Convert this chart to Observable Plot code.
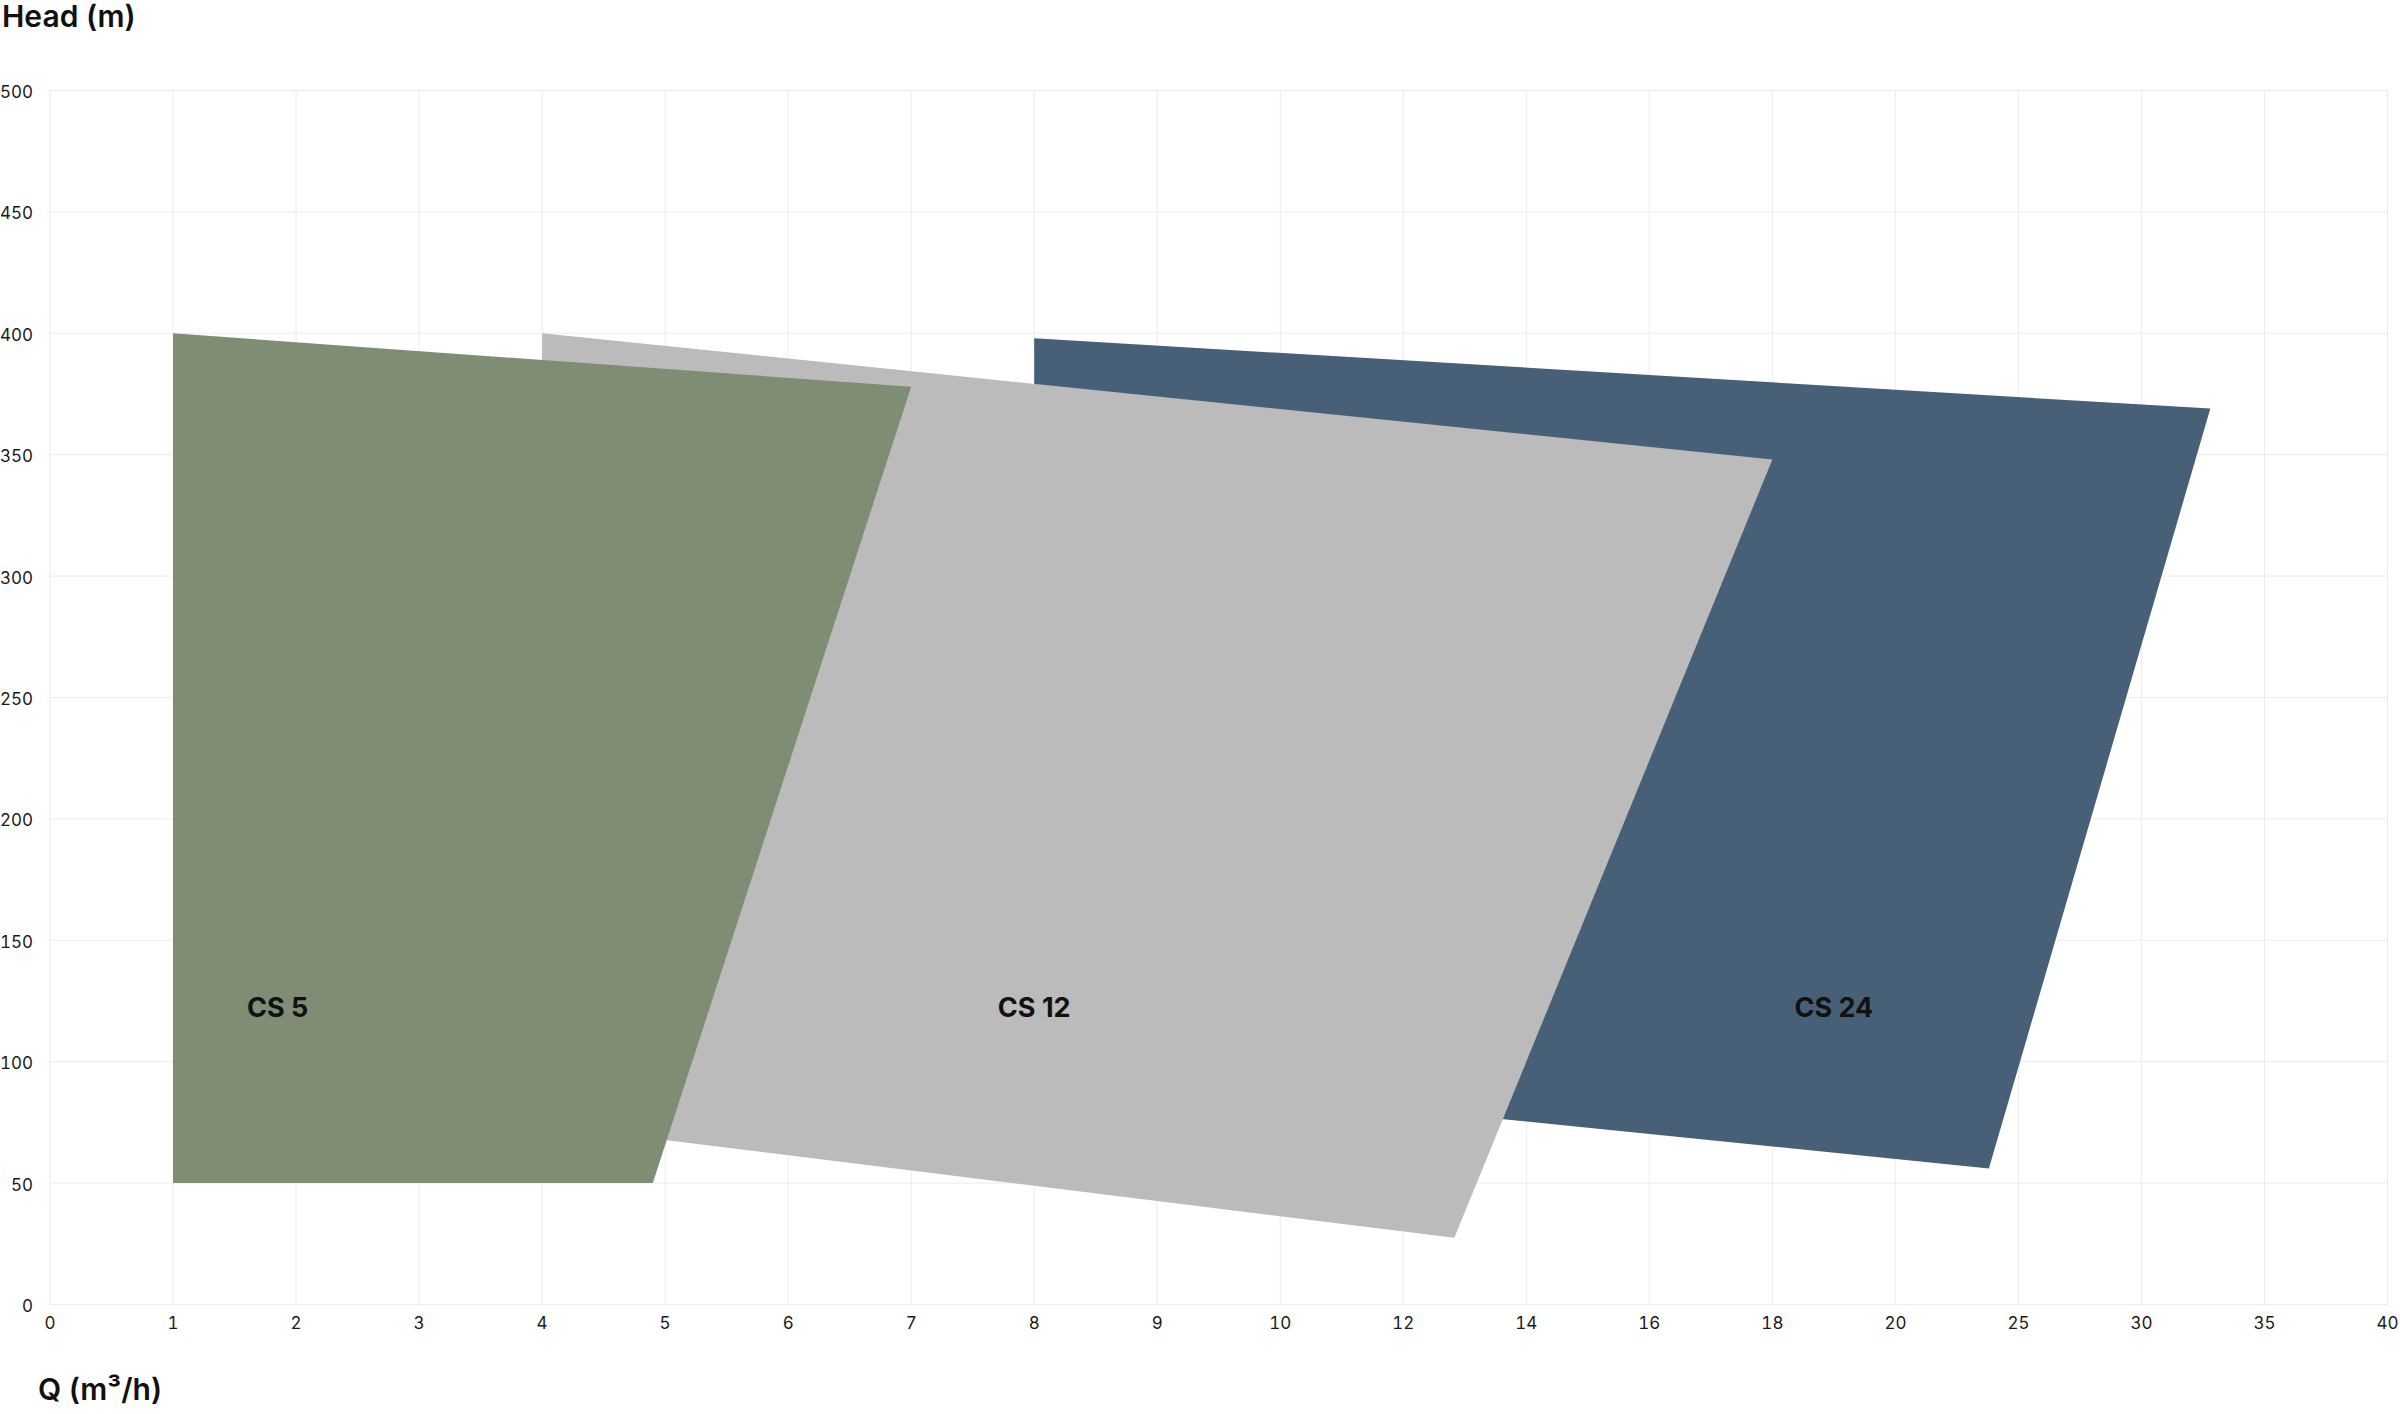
<!DOCTYPE html>
<html>
<head>
<meta charset="utf-8">
<script src="https://cdn.jsdelivr.net/npm/d3@7"></script>
<script src="https://cdn.jsdelivr.net/npm/@observablehq/plot@0.6"></script>
<style>
  html, body { margin: 0; padding: 0; background: #fff; }
  #wrap { position: relative; width: 2400px; height: 1414px; font-family: Inter, "Noto Sans", sans-serif; }
  .title { position: absolute; font-size: 30px; line-height: 30px; font-weight: 600; color: #111; white-space: nowrap; }
  #ytitle { left: 2px; top: 1px; }
  #xtitle { left: 38px; top: 1374px; }
  #chart { position: absolute; left: 0; top: 0; }
</style>
</head>
<body>
<div id="wrap">
  <div id="chart"></div>
  <div class="title" id="ytitle">Head (m)</div>
  <div class="title" id="xtitle">Q (m³/h)</div>
</div>
<script>
// Axis ticks (x axis is piecewise: equal spacing between listed stops)
const xTicks = [0, 1, 2, 3, 4, 5, 6, 7, 8, 9, 10, 12, 14, 16, 18, 20, 25, 30, 35, 40];
const yTicks = [0, 50, 100, 150, 200, 250, 300, 350, 400, 450, 500];

// Pump operating areas (polygon vertices, Q in m³/h, head in m)
const seriesNames = ["CS 5", "CS 12", "CS 24"];
const seriesColors = ["#7e8d74", "#bbbbbb", "#476078"];
const cs5Q  = [1, 7, 4.9, 1];
const cs5H  = [400, 378, 50, 50];
const cs12Q = [4, 18, 12.83, 4];
const cs12H = [400, 348, 27.5, 74];
const cs24Q = [8, 32.8, 23.8, 8];
const cs24H = [398, 369, 56, 96];

// Label positions
const labelQ = [1.85, 8, 19];
const labelH = [122, 122, 122];

const toRows = (qs, hs, name) => qs.map((q, i) => ({q, h: hs[i], name}));
const cs5 = toRows(cs5Q, cs5H, seriesNames[0]);
const cs12 = toRows(cs12Q, cs12H, seriesNames[1]);
const cs24 = toRows(cs24Q, cs24H, seriesNames[2]);
const labels = seriesNames.map((name, i) => ({name, q: labelQ[i], h: labelH[i]}));

const width = 2400, height = 1414;
const marginLeft = 49.5, marginRight = 13, marginTop = 90, marginBottom = 110;
const x0 = marginLeft, x1 = width - marginRight;
const xRange = xTicks.map((_, i) => x0 + i * (x1 - x0) / (xTicks.length - 1));

const chart = Plot.plot({
  width, height,
  marginLeft, marginRight, marginTop, marginBottom,
  style: {fontFamily: "Inter, 'Noto Sans', sans-serif", fontSize: "17px", color: "#1a1a1a", background: "transparent"},
  x: {type: "linear", domain: xTicks, range: xRange},
  y: {domain: [0, 500]},
  marks: [
    Plot.gridX(xTicks, {stroke: "#ebebeb", strokeOpacity: 1, strokeWidth: 1}),
    Plot.gridY(yTicks, {stroke: "#ebebeb", strokeOpacity: 1, strokeWidth: 1}),
    Plot.line(cs24, {x: "q", y: "h", fill: seriesColors[2], stroke: "none"}),
    Plot.line(cs12, {x: "q", y: "h", fill: seriesColors[1], stroke: "none"}),
    Plot.line(cs5, {x: "q", y: "h", fill: seriesColors[0], stroke: "none"}),
    Plot.axisX({ticks: xTicks, tickSize: 0, tickPadding: 12, label: null, fontSize: 17}),
    Plot.axisY({ticks: yTicks, tickSize: 0, tickPadding: 17, label: null, fontSize: 17, dy: 2}),
    Plot.text(labels, {x: "q", y: "h", text: "name", fontSize: 27, fontWeight: 700, fill: "#111"})
  ]
});
document.getElementById("chart").appendChild(chart);
</script>
</body>
</html>
